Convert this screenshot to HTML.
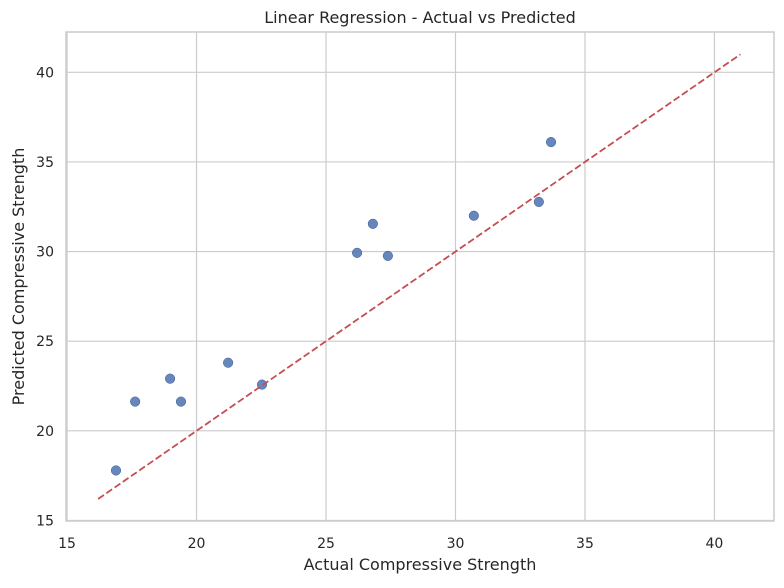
<!DOCTYPE html>
<html><head><meta charset="utf-8"><style>
body{margin:0;background:#fff;font-family:"DejaVu Sans","Liberation Sans",sans-serif}
</style></head><body>
<svg id="chart" width="784" height="584" xmlns="http://www.w3.org/2000/svg" font-family="DejaVu Sans, Liberation Sans, sans-serif"></svg>
<script>
const actual=[16.89,17.63,18.98,19.40,21.22,22.53,26.20,26.81,27.39,30.71,33.22,33.69];
const predicted=[17.79,21.63,22.91,21.63,23.80,22.58,29.93,31.55,29.76,32.0,32.77,36.11];
const xTicks=[15,20,25,30,35,40];
const yTicks=[15,20,25,30,35,40];
const refLine=[16.2,41];
const L=66,R=774,T=32,B=521;
const xMin=14.96,xMax=42.3,yMin=14.97,yMax=42.25;
const sx=v=>L+(v-xMin)/(xMax-xMin)*(R-L);
const sy=v=>B-(v-yMin)/(yMax-yMin)*(B-T);
const svg=document.getElementById('chart');
const NS='http://www.w3.org/2000/svg';
function mk(t,a,p){const e=document.createElementNS(NS,t);for(const k in a)e.setAttribute(k,a[k]);(p||svg).appendChild(e);return e;}
xTicks.forEach(v=>{
 const g=mk('line',{x1:sx(v),x2:sx(v),y1:T,y2:B,stroke:'#cccccc','stroke-width':1.2});
 
 
 const t=mk('text',{x:sx(v),y:B+27,'text-anchor':'middle','font-size':14,fill:'#262626'});
 t.textContent=v;
 
 
});
yTicks.forEach(v=>{
 const g=mk('line',{x1:L,x2:R,y1:sy(v),y2:sy(v),stroke:'#cccccc','stroke-width':1.2});
 
 
 const t=mk('text',{x:L-12,y:sy(v)+5,'text-anchor':'end','font-size':14,fill:'#262626'});
 t.textContent=v;
 
 
});
const fr=mk('rect',{x:L,y:T,width:R-L,height:B-T,fill:'none',stroke:'#cccccc','stroke-width':1.5});


actual.forEach((a,i)=>{
 const c=mk('circle',{cx:sx(a),cy:sy(predicted[i]),r:4.8,fill:'#4c72b0','fill-opacity':0.85,stroke:'#3a5a95','stroke-width':0.5});
 
 
});
const ln=mk('line',{x1:sx(refLine[0]),y1:sy(refLine[0]),x2:sx(refLine[1]),y2:sy(refLine[1]),stroke:'#c44e52','stroke-width':1.8,'stroke-dasharray':'7,3'});


const tt=mk('text',{x:(L+R)/2,y:23,'text-anchor':'middle','font-size':16,fill:'#262626'});
tt.textContent='Linear Regression - Actual vs Predicted';


const xl=mk('text',{x:(L+R)/2,y:570,'text-anchor':'middle','font-size':16,fill:'#262626'});
xl.textContent='Actual Compressive Strength';


const yl=mk('text',{x:0,y:0,'text-anchor':'middle','font-size':16,fill:'#262626',transform:`translate(24,${(T+B)/2}) rotate(-90)`});
yl.textContent='Predicted Compressive Strength';


</script>
</body></html>
